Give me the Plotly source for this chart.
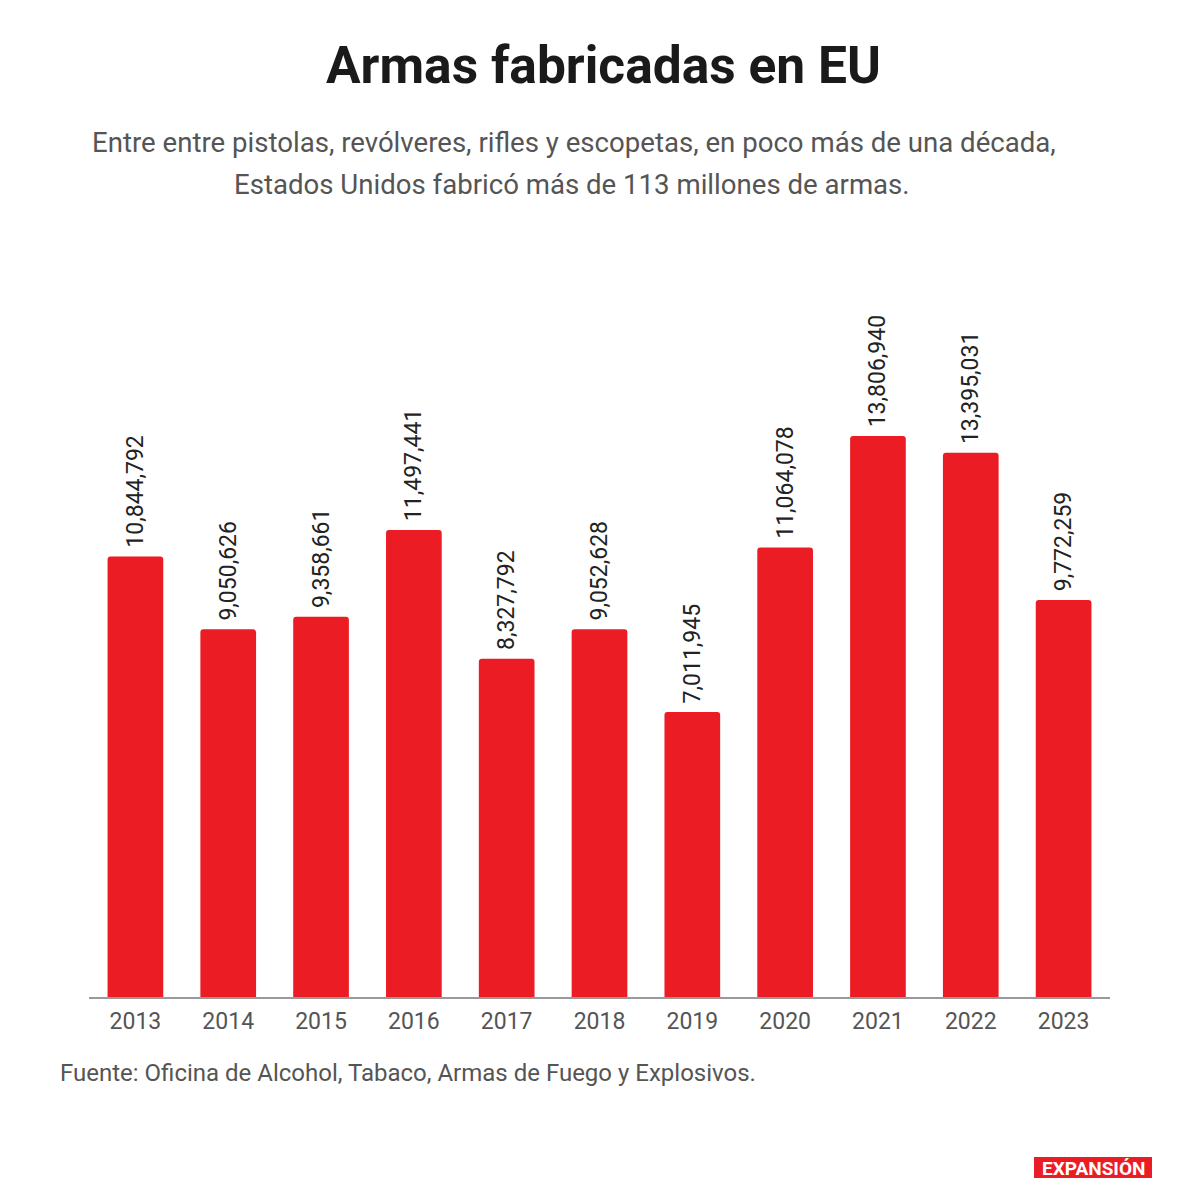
import plotly.graph_objects as go

years = ['2013', '2014', '2015', '2016', '2017', '2018', '2019', '2020', '2021', '2022', '2023']
armas = [10844792, 9050626, 9358661, 11497441, 8327792, 9052628, 7011945, 11064078, 13806940, 13395031, 9772259]

title = 'Armas fabricadas en EU'
subtitle_lines = ['Entre entre pistolas, revólveres, rifles y escopetas, en poco más de una década,',
                  'Estados Unidos fabricó más de 113 millones de armas.']
source = 'Fuente: Oficina de Alcohol, Tabaco, Armas de Fuego y Explosivos.'

RED = '#ec1c24'
W, H = 1200, 1193
ML, MR, MT, MB = 81, 98, 252, 204

fig = go.Figure()
fig.add_trace(go.Bar(
    x=years, y=armas,
    marker=dict(color=RED, line=dict(width=0)),
    texttemplate='\u00a0%{y:,}',
    textposition='outside',
    textangle=-90,
    constraintext='none',
    textfont=dict(size=23, color='#222222'),
    cliponaxis=False,
))

plot_h = H - MT - MB
plot_w = W - ML - MR


# pixel positions (page coords) -> paper coords
def py(px):
    return (H - MB - (px - 8)) / plot_h


def pxx(px):
    return (px - 8 - ML) / plot_w


fig.update_layout(
    width=W, height=H,
    margin=dict(l=ML, r=MR, t=MT, b=MB),
    paper_bgcolor='white', plot_bgcolor='white',
    font=dict(family='Roboto', color='#444444'),
    bargap=0.4,
    barcornerradius=3,
    showlegend=False,
    xaxis=dict(
        showgrid=False, showline=True, linecolor='#999999', linewidth=1.5,
        ticks='', ticklabelstandoff=3, tickfont=dict(size=23, color='#555555'),
    ),
    yaxis=dict(range=[0, 18140000], visible=False, showgrid=False),
)

fig.add_annotation(text='<b>' + title + '</b>', x=pxx(603), y=py(65), xref='paper', yref='paper',
                   xanchor='center', yanchor='middle', showarrow=False,
                   font=dict(size=51.5, color='#1a1a1a'))
fig.add_annotation(text=subtitle_lines[0], x=pxx(574), y=py(143), xref='paper', yref='paper',
                   xanchor='center', yanchor='middle', showarrow=False,
                   font=dict(size=27.6, color='#555555'))
fig.add_annotation(text=subtitle_lines[1], x=pxx(572), y=py(185), xref='paper', yref='paper',
                   xanchor='center', yanchor='middle', showarrow=False,
                   font=dict(size=27.6, color='#555555'))
fig.add_annotation(text=source, x=pxx(58), y=py(1073), xref='paper', yref='paper',
                   xanchor='left', yanchor='middle', showarrow=False,
                   font=dict(size=24, color='#555555'))

# logo
fig.add_shape(type='rect', xref='paper', yref='paper',
              x0=pxx(1034), x1=pxx(1152), y0=py(1178), y1=py(1157),
              fillcolor=RED, line=dict(width=0))
fig.add_annotation(text='<b>EXPANSIÓN</b>', x=pxx(1093), y=py(1168), xref='paper', yref='paper',
                   xanchor='center', yanchor='middle', showarrow=False,
                   font=dict(size=19, color='white'))

fig.write_html('out.html')
